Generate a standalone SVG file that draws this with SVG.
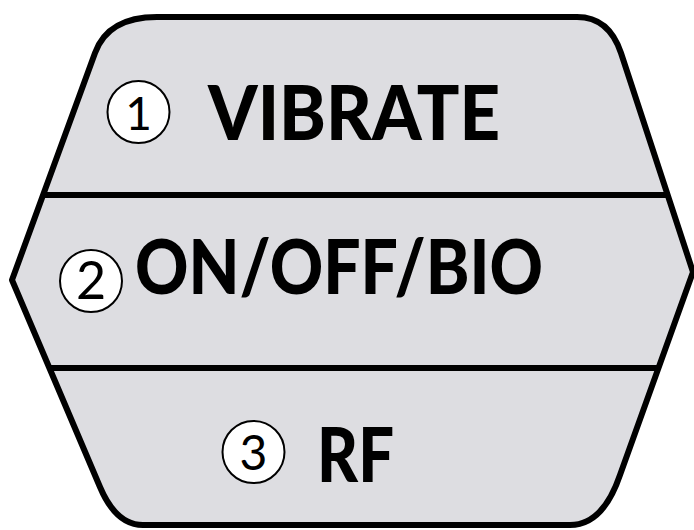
<svg xmlns="http://www.w3.org/2000/svg" width="694" height="530" viewBox="0 0 694 530">
<style>
.outline{fill:#dddde1;stroke:#000;stroke-width:6;stroke-linejoin:round}
.div{stroke:#000;stroke-width:6;fill:none}
.badge{fill:#fff;stroke:#000;stroke-width:2}
.num{font-family:Lato,"Open Sans","Liberation Sans",sans-serif;font-weight:400;fill:#000;text-anchor:middle}
.lbl{font-family:Lato,"Open Sans","Liberation Sans",sans-serif;font-weight:900;font-size:76px;fill:#000}
</style>
<rect width="694" height="530" fill="#fff"/>
<g id="panel">
<path class="outline" d="M157,17 L577,17 Q609,17 621,53 L693,272 L620,475 Q603,525 570,525 L143,525 Q116,525 100,487 L12,280 L95,53 Q108,17 157,17 Z"/>
</g>
<g id="dividers">
<line class="div" x1="43" y1="195" x2="670" y2="195"/>
<line class="div" x1="49" y1="368" x2="658" y2="368"/>
</g>
<g id="vibrate">
<circle class="badge" cx="138.5" cy="112" r="31"/>
<text class="num" x="138.5" y="130" font-size="46">1</text>
<text class="lbl" x="208" y="140" textLength="292" lengthAdjust="spacingAndGlyphs">VIBRATE</text>
</g>
<g id="onoffbio">
<circle class="badge" cx="91" cy="281" r="31"/>
<text class="num" x="91" y="299" font-size="52">2</text>
<text class="lbl" x="135" y="294" textLength="408" lengthAdjust="spacingAndGlyphs">ON/OFF/BIO</text>
</g>
<g id="rf">
<circle class="badge" cx="253.5" cy="452" r="31"/>
<text class="num" x="253.5" y="470" font-size="48">3</text>
<text class="lbl" x="317" y="482" textLength="77" lengthAdjust="spacingAndGlyphs">RF</text>
</g>
</svg>
